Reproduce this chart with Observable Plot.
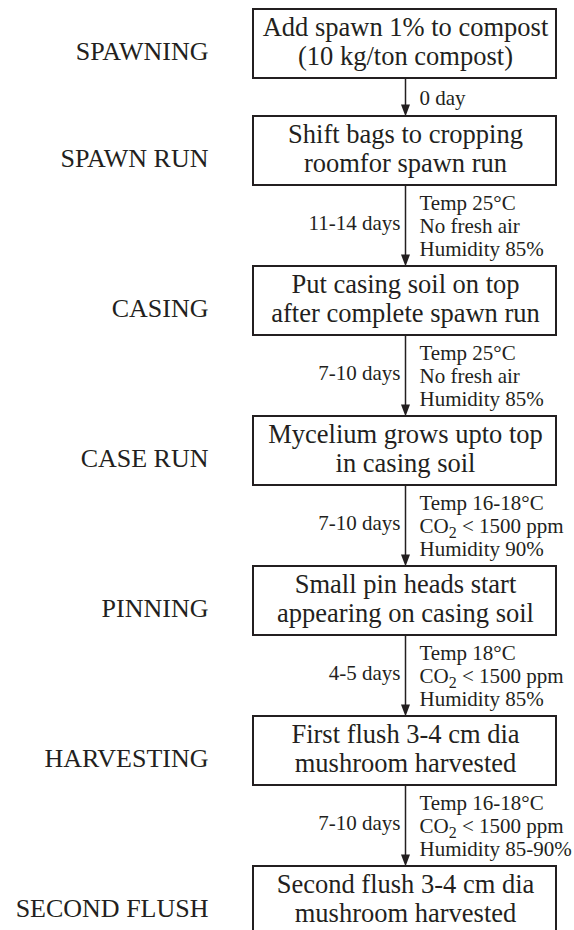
<!DOCTYPE html>
<html>
<head>
<meta charset="utf-8">
<script src="https://cdn.jsdelivr.net/npm/d3@7"></script>
<script src="https://cdn.jsdelivr.net/npm/@observablehq/plot@0.6"></script>
<style>
  html, body { margin: 0; padding: 0; background: #fff; }
  #chart svg { display: block; }
</style>
</head>
<body>
<div id="chart"></div>
<script>
// ---- data ----
const stages = ["SPAWNING", "SPAWN RUN", "CASING", "CASE RUN", "PINNING", "HARVESTING", "SECOND FLUSH"];
const steps = [
  "Add spawn 1% to compost\n(10 kg/ton compost)",
  "Shift bags to cropping\nroomfor spawn run",
  "Put casing soil on top\nafter complete spawn run",
  "Mycelium grows upto top\nin casing soil",
  "Small pin heads start\nappearing on casing soil",
  "First flush 3-4 cm dia\nmushroom harvested",
  "Second flush 3-4 cm dia\nmushroom harvested"
];
const durations = ["0 day", "11-14 days", "7-10 days", "7-10 days", "4-5 days", "7-10 days"];
const conditions = [
  [],
  ["Temp 25°C", "No fresh air", "Humidity 85%"],
  ["Temp 25°C", "No fresh air", "Humidity 85%"],
  ["Temp 16-18°C", "CO2 < 1500 ppm", "Humidity 90%"],
  ["Temp 18°C", "CO2 < 1500 ppm", "Humidity 85%"],
  ["Temp 16-18°C", "CO2 < 1500 ppm", "Humidity 85-90%"]
];

// ---- layout ----
const W = 574, H = 930;
const boxX1 = 253, boxX2 = 556, axisX = 405;
const boxH = 69, top0 = 9, gapShort = 38, gapLong = 81;
const ink = "#231f20";
const fam = "'Liberation Serif', 'Times New Roman', serif";

const boxes = stages.map((stage, i) => ({stage, step: steps[i]}));
let t = top0;
boxes.forEach((b, i) => {
  b.top = t; b.bottom = t + boxH; b.mid = t + boxH / 2;
  if (i < durations.length) t = b.bottom + (conditions[i].length ? gapLong : gapShort);
});
const arrows = durations.map((dur, i) => ({
  dur,
  cond: conditions[i].join("\n"),
  hasCond: conditions[i].length > 0,
  from: boxes[i].bottom,
  to: boxes[i + 1].top,
  mid: (boxes[i].bottom + boxes[i + 1].top) / 2
}));
const withCond = arrows.filter(d => d.hasCond);
const noCond = arrows.filter(d => !d.hasCond);

const head = {draw(ctx) { ctx.moveTo(0, 0); ctx.lineTo(-4.5, -12); ctx.lineTo(4.5, -12); ctx.closePath(); }};

const plot = Plot.plot({
  width: W, height: H, margin: 0,
  x: {type: "identity", axis: null},
  y: {type: "identity", axis: null},
  style: {fontFamily: fam, color: ink, background: "white", overflow: "hidden"},
  marks: [
    Plot.ruleX(arrows, {x: axisX, y1: "from", y2: d => d.to - 6, stroke: ink, strokeWidth: 1.5}),
    Plot.dot(arrows, {x: axisX, y: "to", symbol: head, r: 5, fill: ink, stroke: "none"}),
    Plot.rect(boxes, {x1: boxX1, x2: boxX2, y1: "top", y2: "bottom", fill: "white", stroke: ink, strokeWidth: 2}),
    Plot.text(boxes, {x: axisX, y: d => d.mid - 3, text: "step", fontSize: 26.5, lineHeight: 1.12, fill: ink}),
    Plot.text(boxes, {x: 208, y: d => d.mid + 8, text: "stage", fontSize: 26, textAnchor: "end", fill: ink}),
    Plot.text(withCond, {x: 400, y: d => d.mid - 3, text: "dur", fontSize: 21, textAnchor: "end", fill: ink}),
    Plot.text(noCond, {x: 419, y: d => d.mid + 1, text: "dur", fontSize: 21, textAnchor: "start", fill: ink}),
    Plot.text(withCond, {x: 419, y: "mid", text: "cond", fontSize: 21, lineHeight: 1.1, textAnchor: "start", fill: ink})
  ]
});

// subscript for CO2
d3.select(plot).selectAll("text, tspan").each(function() {
  if (this.childElementCount === 0 && this.textContent.startsWith("CO2")) {
    const rest = this.textContent.slice(3);
    this.textContent = "CO";
    d3.select(this).append("tspan").attr("dy", 5).attr("font-size", 16).text("2");
    d3.select(this).append("tspan").attr("dy", -5).text(rest);
  }
});

document.getElementById("chart").appendChild(plot);
</script>
</body>
</html>
